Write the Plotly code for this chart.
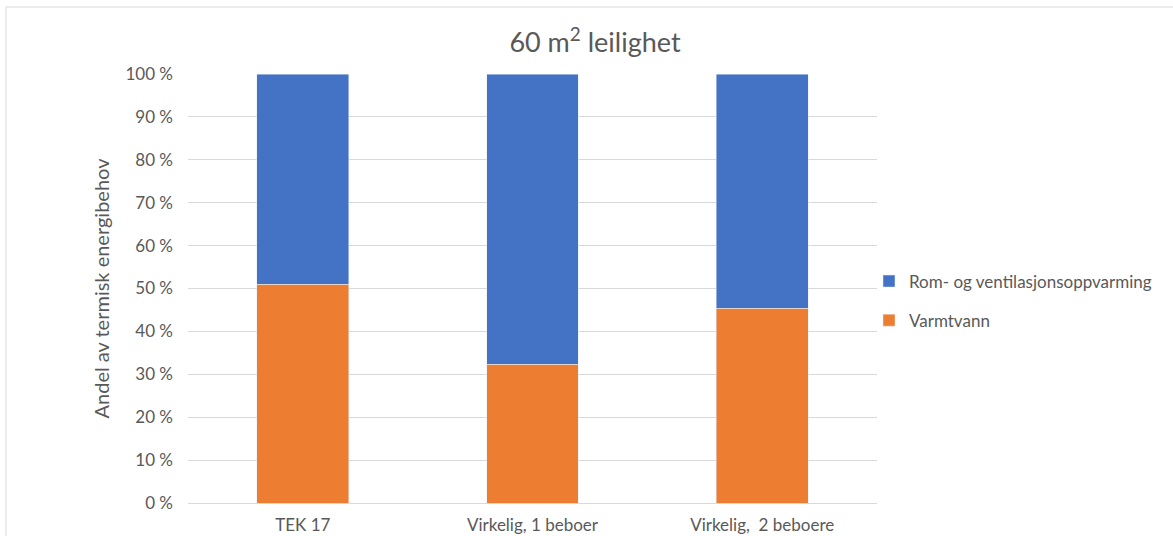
import plotly.graph_objects as go

categories = ["TEK 17", "Virkelig, 1 beboer", "Virkelig,  2 beboere"]
varmtvann = [51.0, 32.3, 45.4]
rom_vent = [100 - v for v in varmtvann]
y_ticks = list(range(0, 101, 10))
y_tick_labels = [f"{t} %" for t in y_ticks]

FONT = "Lato"
GREY = "#595959"

fig = go.Figure()
fig.add_trace(go.Bar(x=categories, y=varmtvann, name="Varmtvann", marker_color="#ED7D31",
                     legendgroup="b", legendrank=2))
fig.add_trace(go.Bar(x=categories, y=rom_vent, name="Rom- og ventilasjonsoppvarming",
                     marker_color="#4472C4", legendgroup="a", legendrank=1))

fig.update_layout(
    width=1173, height=536,
    barmode="stack", bargap=0.6,
    plot_bgcolor="white", paper_bgcolor="white",
    margin=dict(l=188, r=296, t=74, b=33),
    font=dict(family=FONT, color=GREY, size=17),
    title=dict(text="60 m<sup>2</sup> leilighet", x=595 / 1173, xanchor="center",
               y=1 - 43 / 536, yanchor="middle", font=dict(size=27, color=GREY, family=FONT)),
    legend=dict(traceorder="grouped", x=(869 - 188) / 689, y=(503 - 301) / 429,
                xanchor="left", yanchor="middle", bgcolor="rgba(0,0,0,0)", borderwidth=0,
                font=dict(size=17, color=GREY, family=FONT), itemwidth=30, tracegroupgap=14),
    showlegend=True,
    shapes=[dict(type="rect", xref="paper", yref="paper",
                 x0=(6 - 188) / 689, x1=(1180 - 188) / 689,
                 y0=(503 - 545) / 429, y1=(503 - 7) / 429,
                 line=dict(color="#D9D9D9", width=1), fillcolor="rgba(0,0,0,0)", layer="below")],
)
fig.update_xaxes(showgrid=False, showline=True, linecolor="#D9D9D9", ticks="", automargin=False,
                 ticklabelstandoff=7, tickfont=dict(size=17, color=GREY))
fig.update_yaxes(range=[0, 100], tickvals=y_ticks, ticktext=y_tick_labels, automargin=False,
                 showgrid=True, gridcolor="#D9D9D9", zeroline=False, showline=False,
                 ticklabelstandoff=14, tickfont=dict(size=17, color=GREY),
                 title=dict(text="Andel av termisk energibehov", font=dict(size=20, color=GREY), standoff=10))

fig.write_html("out.html")
